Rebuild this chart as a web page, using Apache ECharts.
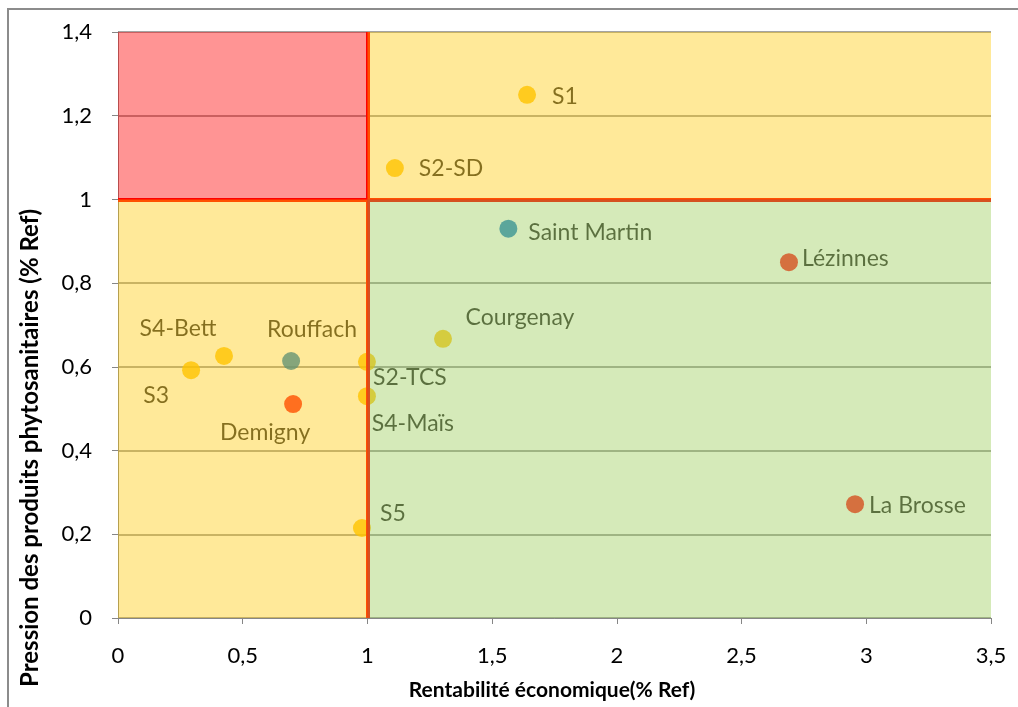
<!DOCTYPE html>
<html>
<head>
<meta charset="utf-8">
<title>Pression phyto vs rentabilité</title>
<script src="https://cdn.jsdelivr.net/npm/echarts/dist/echarts.min.js"></script>
<style>
  html, body { margin: 0; padding: 0; background: #fff; }
  #chart { width: 1018px; height: 707px; }
</style>
</head>
<body>
<div id="chart"></div>
<script>
// données
const names = ['S1', 'S2-SD', 'Saint Martin', 'Lézinnes', 'La Brosse', 'Courgenay', 'S4-Bett', 'S3',
  'Rouffach', 'Demigny', 'S2-TCS', 'S4-Maïs', 'S5']
const xValues = [1.64, 1.11, 1.565, 2.69, 2.955, 1.303, 0.425, 0.293, 0.694, 0.702, 0.998, 0.998, 0.978]
const yValues = [1.25, 1.075, 0.93, 0.85, 0.272, 0.667, 0.626, 0.592, 0.614, 0.511, 0.612, 0.53, 0.215]
const groups = ['essai', 'essai', 'bleu', 'rouge', 'rouge', 'essai', 'essai', 'essai',
  'bleu', 'rouge', 'essai', 'essai', 'essai']
const xTicks = [0, 0.5, 1, 1.5, 2, 2.5, 3, 3.5]
const yTicks = [0, 0.2, 0.4, 0.6, 0.8, 1, 1.2, 1.4]
const xRef = 1
const yRef = 1

// couleurs des points (vues à travers le calque transparent)
const groupColors = {essai: '#FFC000', bleu: '#0070C0', rouge: '#FF0000'}

// placement des étiquettes
const labelLayout = {
  'S1': {position: 'right', distance: 16, offset: [0, 2]},
  'S2-SD': {position: 'right', distance: 15, offset: [0, 1]},
  'Saint Martin': {position: 'right', distance: 11, offset: [0, 4]},
  'Lézinnes': {position: 'right', distance: 4, offset: [0, -4]},
  'La Brosse': {position: 'right', distance: 5, offset: [0, 1]},
  'Courgenay': {position: 'inside', offset: [77, -21]},
  'S4-Bett': {position: 'inside', offset: [-46, -27]},
  'S3': {position: 'inside', offset: [-35, 25]},
  'Rouffach': {position: 'inside', offset: [21, -31]},
  'Demigny': {position: 'inside', offset: [-28, 28]},
  'S2-TCS': {position: 'inside', offset: [43, 16]},
  'S4-Maïs': {position: 'inside', offset: [46, 27]},
  'S5': {position: 'inside', offset: [31, -14]}
}

const fmt = function (v) { return String(v).replace('.', ',') }
const font = 'Lato, "Open Sans", sans-serif'

let points = names.map(function (n, i) {
  let lay = labelLayout[n]
  return {
    name: n,
    value: [xValues[i], yValues[i]],
    itemStyle: {color: groupColors[groups[i]]},
    label: {
      show: true,
      formatter: '{b}',
      position: lay.position,
      distance: lay.distance || 0,
      offset: lay.offset,
      color: '#000',
      fontFamily: font,
      fontSize: 23
    }
  }
})

let myChart = echarts.init(document.getElementById('chart'))
myChart.setOption({
  animation: false,
  grid: {left: 118, right: 27, top: 32, bottom: 89},
  graphic: [
    // cadre extérieur
    {type: 'rect', shape: {x: 8, y: 9, width: 1200, height: 900}, style: {fill: 'none', stroke: '#8c8c8c', lineWidth: 2}, silent: true},
    {type: 'text', x: 552, y: 690, style: {text: 'Rentabilité économique(% Ref)', font: 'bold 21px ' + font, fill: '#000', align: 'center', verticalAlign: 'middle'}},
    {type: 'text', rotation: Math.PI / 2, x: 30, y: 448, style: {text: 'Pression des produits phytosanitaires (% Ref)', font: 'bold 24px ' + font, fill: '#000', align: 'center', verticalAlign: 'middle'}}
  ],
  xAxis: {
    type: 'value',
    min: xTicks[0],
    max: xTicks[xTicks.length - 1],
    interval: 0.5,
    axisLine: {show: true, lineStyle: {color: '#868686', width: 1}},
    axisTick: {show: true, length: 6, lineStyle: {color: '#868686'}},
    axisLabel: {formatter: fmt, color: '#000', fontFamily: font, fontSize: 22, margin: 27},
    splitLine: {show: false}
  },
  yAxis: {
    type: 'value',
    min: yTicks[0],
    max: yTicks[yTicks.length - 1],
    interval: 0.2,
    axisLine: {show: true, lineStyle: {color: '#868686', width: 1}},
    axisTick: {show: true, length: 6, lineStyle: {color: '#868686'}},
    axisLabel: {formatter: fmt, color: '#000', fontFamily: font, fontSize: 22, margin: 26},
    splitLine: {show: true, lineStyle: {color: '#868686', width: 1.5}}
  },
  series: [
    {
      name: 'points',
      type: 'scatter',
      z: 2,
      symbolSize: 18,
      data: points,
      markLine: {
        z: 3,
        silent: true,
        symbol: 'none',
        label: {show: false},
        lineStyle: {color: '#FF0000', width: 4, type: 'solid'},
        data: [
          [{coord: [xTicks[0], yRef]}, {coord: [xTicks[xTicks.length - 1], yRef]}],
          [{coord: [xRef, yTicks[0]]}, {coord: [xRef, yTicks[yTicks.length - 1]]}]
        ]
      }
    },
    {
      // calque des zones, par-dessus tout le reste
      name: 'zones',
      type: 'scatter',
      z: 10,
      silent: true,
      data: [],
      markArea: {
        z: 20,
        silent: true,
        label: {show: false},
        data: [
          [{coord: [xTicks[0], yRef], itemStyle: {color: 'rgba(255,0,0,0.42)'}}, {coord: [xRef, yTicks[yTicks.length - 1]]}],
          [{coord: [xTicks[0], yTicks[0]], itemStyle: {color: 'rgba(255,200,0,0.4)'}}, {coord: [xRef, yRef]}],
          [{coord: [xRef, yRef], itemStyle: {color: 'rgba(255,200,0,0.4)'}}, {coord: [xTicks[xTicks.length - 1], yTicks[yTicks.length - 1]]}],
          [{coord: [xRef, yTicks[0]], itemStyle: {color: 'rgba(150,202,80,0.4)'}}, {coord: [xTicks[xTicks.length - 1], yRef]}]
        ]
      }
    }
  ]
})
</script>
</body>
</html>
